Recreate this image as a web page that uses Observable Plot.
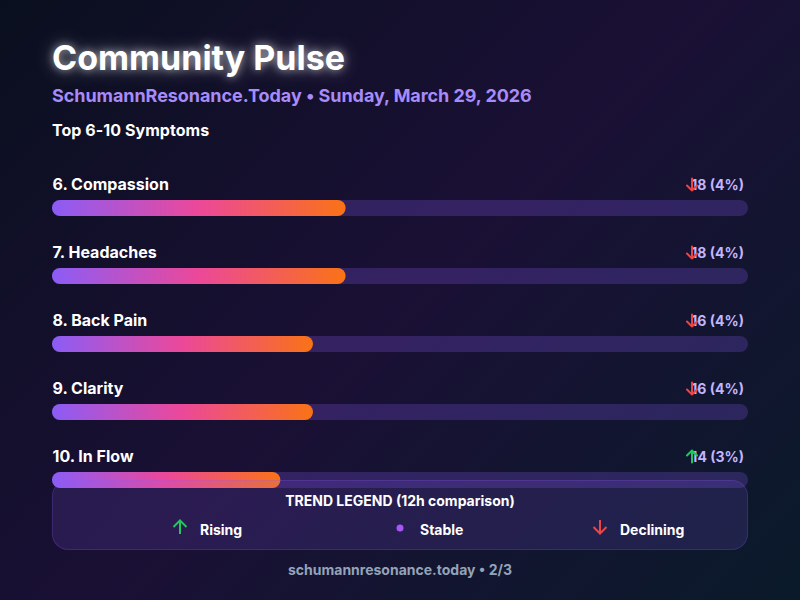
<!DOCTYPE html>
<html>
<head>
<meta charset="utf-8">
<script src="https://cdn.jsdelivr.net/npm/d3@7"></script>
<script src="https://cdn.jsdelivr.net/npm/@observablehq/plot@0.6"></script>
<style>
html,body{margin:0;padding:0;width:800px;height:600px;overflow:hidden}
body{position:relative;font-family:Inter,sans-serif;color:#fff;background:linear-gradient(135deg,#0a0f1f 0%,#1a1035 50%,#0a1a2a 100%)}
.t{position:absolute;white-space:nowrap;line-height:1}
#title{left:52px;top:41px;font-size:34px;font-weight:700;text-shadow:0 0 8px rgba(255,255,255,.6),0 0 20px rgba(255,255,255,.4)}
#sub{left:52px;top:87px;font-size:18px;font-weight:700;letter-spacing:-.06px;color:#a78bfa}
#sec{left:52px;top:122px;font-size:16px;font-weight:700;letter-spacing:.05px}
#chart{position:absolute;left:0;top:0}
#chart svg{display:block;background:transparent}
#legend{position:absolute;left:52px;top:480px;width:694px;height:68px;border:1px solid rgba(139,92,246,.22);border-radius:16px;background:rgba(139,92,246,.15)}
#legendTitle{left:0;right:0;top:13px;text-align:center;font-size:14px;font-weight:700}
.lab{font-size:14px;font-weight:700;top:42px}
#foot{left:0;right:0;top:563px;text-align:center;font-size:14px;font-weight:700;color:#94a3b8}
</style>
</head>
<body>
<div id="title" class="t"></div>
<div id="sub" class="t"></div>
<div id="sec" class="t"></div>
<div id="chart"></div>
<div id="legend"></div>
<div id="foot" class="t"></div>
<script>
const titleText = "Community Pulse";
const subtitleText = "SchumannResonance.Today • Sunday, March 29, 2026";
const sectionText = "Top 6-10 Symptoms";
const footerText = "schumannresonance.today • 2/3";
const legendTitle = "TREND LEGEND (12h comparison)";

const symptoms = ["6. Compassion", "7. Headaches", "8. Back Pain", "9. Clarity", "10. In Flow"];
const counts = [18, 18, 16, 16, 14];
const percents = [4, 4, 4, 4, 3];
const trends = ["down", "down", "down", "down", "up"];
const axisMax = 42.67;

const legendNames = ["Rising", "Stable", "Declining"];
const legendKinds = ["up", "flat", "down"];
const legendLeft = [200, 420, 620];

const trendColor = {up: "#22c55e", down: "#ef4444", flat: "#a855f7"};

document.getElementById("title").textContent = titleText;
document.getElementById("sub").textContent = subtitleText;
document.getElementById("sec").textContent = sectionText;
document.getElementById("foot").textContent = footerText;

const rows = symptoms.map((name, i) => ({name, count: counts[i], pct: percents[i], trend: trends[i]}));

const arrowShape = {
  draw(ctx, l) {
    const w = l * 0.42;
    ctx.moveTo(0, 0); ctx.lineTo(0, -l);
    ctx.moveTo(-w, w - l); ctx.lineTo(0, -l); ctx.lineTo(w, w - l);
  }
};

const gradientDefs = () => {
  const ns = "http://www.w3.org/2000/svg";
  const defs = document.createElementNS(ns, "defs");
  const g = document.createElementNS(ns, "linearGradient");
  g.setAttribute("id", "barGrad");
  [["0%", "#8b5cf6"], ["50%", "#ec4899"], ["100%", "#f97316"]].forEach(([o, c]) => {
    const s = document.createElementNS(ns, "stop");
    s.setAttribute("offset", o); s.setAttribute("stop-color", c); g.appendChild(s);
  });
  defs.appendChild(g);
  return defs;
};

const plot = Plot.plot({
  width: 800, height: 600,
  margin: 0,
  style: {background: "transparent", fontFamily: "Inter, sans-serif"},
  x: {domain: [0, axisMax], range: [52, 748], axis: null},
  y: {domain: symptoms, range: [200, 488], paddingInner: 0.7647, paddingOuter: 0, align: 0, axis: null, round: false},
  marks: [
    gradientDefs,
    Plot.barX(rows, {y: "name", x1: 0, x2: axisMax, fill: "#8b5cf6", fillOpacity: 0.24, rx: 8}),
    Plot.barX(rows, {y: "name", x1: 0, x2: "count", fill: "url(#barGrad)", rx: 8}),
    Plot.text(rows, {y: "name", x: 0, text: "name", textAnchor: "start", dy: -24, fill: "#fff", fontSize: 16, fontWeight: 700, style: {letterSpacing: "-0.1px"}}),
    Plot.text(rows, {y: "name", x: axisMax, text: d => `${d.count} (${d.pct}%)`, textAnchor: "end", dx: -4.5, dy: -23, fill: "#c4b5fd", fontSize: 14, fontWeight: 700}),
    Plot.vector(rows, {
      y: "name", x: axisMax, dx: -56.5, dy: -24,
      length: 12, anchor: "middle", shape: arrowShape,
      rotate: d => d.trend === "up" ? 0 : 180,
      stroke: d => trendColor[d.trend], strokeWidth: 2
    })
  ]
});
document.getElementById("chart").appendChild(plot);

const legend = document.getElementById("legend");
const lt = document.createElement("div");
lt.id = "legendTitle"; lt.className = "t"; lt.textContent = legendTitle;
legend.appendChild(lt);
legendNames.forEach((name, i) => {
  const kind = legendKinds[i];
  const c = trendColor[kind];
  const left = legendLeft[i] - 53;
  const lab = document.createElement("div");
  lab.className = "t lab"; lab.textContent = name; lab.style.left = left + "px";
  legend.appendChild(lab);
  const ic = document.createElement("div");
  ic.style.cssText = `position:absolute;left:${left - 30}px;top:37px;width:20px;height:20px`;
  const path = kind === "flat"
    ? `<circle cx="10" cy="10" r="3.5" fill="${c}"/>`
    : kind === "up"
      ? `<path d="M10 16V2.5M3.5 9L10 2.5L16.5 9" fill="none" stroke="${c}" stroke-width="2"/>`
      : `<path d="M10 2V15.5M3.5 9L10 15.5L16.5 9" fill="none" stroke="${c}" stroke-width="2"/>`;
  ic.innerHTML = `<svg width="20" height="20" viewBox="0 0 20 20">${path}</svg>`;
  legend.appendChild(ic);
});
</script>
</body>
</html>
